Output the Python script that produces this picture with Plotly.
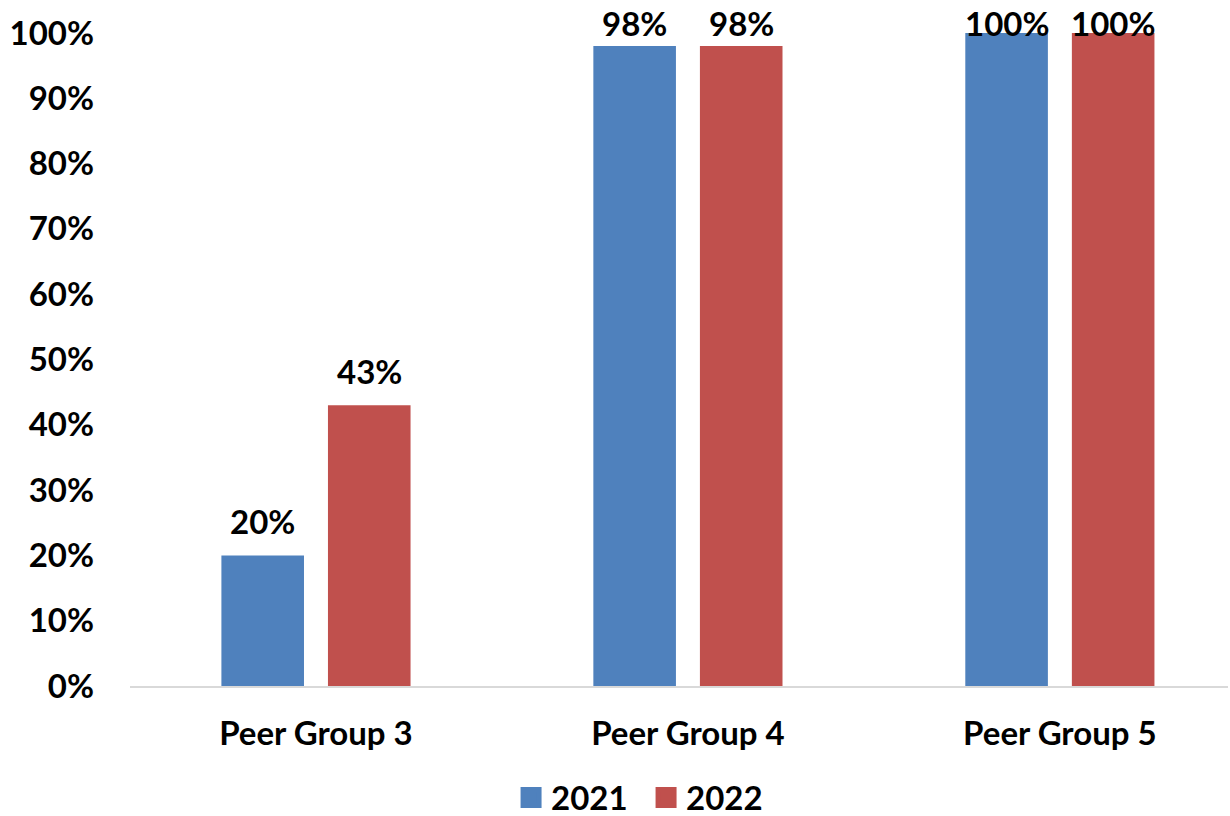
import plotly.graph_objects as go

# Share of institutions per peer group, by year
groups = ["Peer Group 3", "Peer Group 4", "Peer Group 5"]
years = ["2021", "2022"]
values_2021 = [0.20, 0.98, 1.00]
values_2022 = [0.43, 0.98, 1.00]

colors = {"2021": "#4F81BD", "2022": "#C0504D"}
FONT = "Lato, 'Open Sans', sans-serif"
FONT_SIZE = 33
LABEL_CAP = 0.963  # keeps value labels inside the top of the plot

fig = go.Figure()
series = {"2021": values_2021, "2022": values_2022}
for yr in years:
    fig.add_trace(go.Bar(
        x=groups, y=series[yr], name=yr,
        marker=dict(color=colors[yr], line=dict(width=0)),
        showlegend=False,
    ))
    # legend entry with a larger square swatch
    fig.add_trace(go.Scatter(
        x=[None], y=[None], mode="markers", name=yr,
        marker=dict(symbol="square", size=16, color=colors[yr],
                    line=dict(color=colors[yr], width=5)),
    ))

# value labels above each bar
n = len(years)
slot = (1 - 0.427) / n
for i, yr in enumerate(years):
    offset = -(1 - 0.427) / 2 + slot * (i + 0.5)
    for j, v in enumerate(series[yr]):
        fig.add_annotation(
            x=j + offset, y=min(v, LABEL_CAP), xref="x", yref="y",
            text=f"{v:.0%}", showarrow=False, yanchor="bottom",
            yshift=12, font=dict(family=FONT, size=FONT_SIZE, color="black", weight="bold"),
        )

fig.update_layout(
    width=1230, height=816,
    margin=dict(l=130, r=2, t=33, b=130, autoexpand=False),
    plot_bgcolor="white", paper_bgcolor="white",
    barmode="group", bargap=0.427, bargroupgap=0.225,
    font=dict(family=FONT, size=FONT_SIZE, color="black", weight="bold"),
    legend=dict(
        orientation="h", x=0.47, xanchor="center", y=-0.171, yanchor="middle",
        font=dict(family=FONT, size=FONT_SIZE, color="black", weight="bold"),
        entrywidth=90, entrywidthmode="pixels",
    ),
    xaxis=dict(
        type="category", range=[-0.5, 2.452],
        showline=True, linecolor="#D9D9D9", linewidth=2,
        showgrid=False, zeroline=False, ticks="",
        ticklabelstandoff=17,
    ),
    yaxis=dict(
        range=[0, 1], dtick=0.1, tickformat=".0%",
        showline=False, showgrid=False, zeroline=False, ticks="",
        ticklabelstandoff=35,
    ),
)

fig.write_html("out.html")
